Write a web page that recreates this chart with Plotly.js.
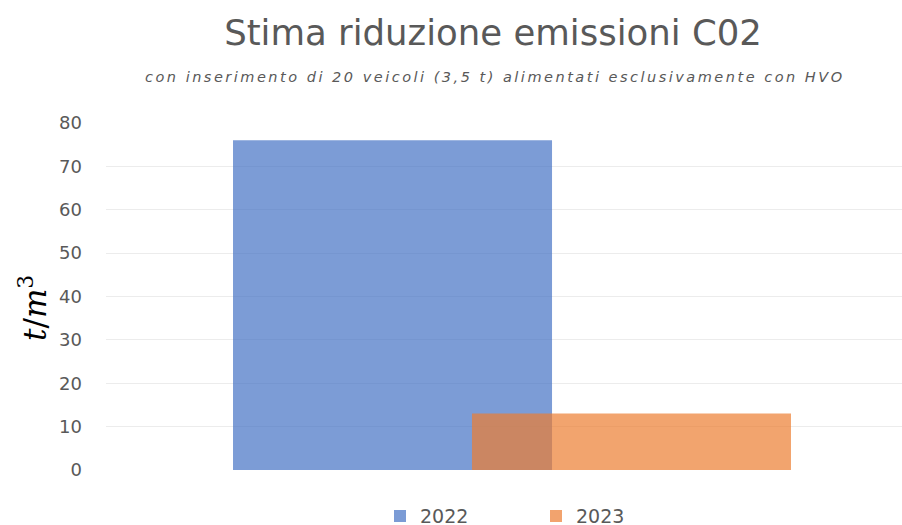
<!DOCTYPE html>
<html>
<head>
<meta charset="utf-8">
<script src="https://cdn.plot.ly/plotly-3.0.1.min.js"></script>
<style>html,body{margin:0;padding:0;background:#fff;}#chart{width:902px;height:525px;}</style>
</head>
<body>
<div id="chart"></div>
<script>
const seriesNames = ["2022", "2023"];
const seriesX = [2022, 2023];
const seriesValues = [76, 13];
const seriesColors = ["#4472C4", "#ED7D31"];
const yTicks = [0, 10, 20, 30, 40, 50, 60, 70, 80];
const titleText = "Stima riduzione emissioni C02";
const subtitleText = "con inserimento di 20 veicoli (3,5 t) alimentati esclusivamente con HVO";
const yTitleText = "<i>t</i>/<i>m</i><sup>3</sup>";

const traces = seriesNames.map((name, i) => ({
  type: "bar",
  name: name,
  x: [seriesX[i]],
  y: [seriesValues[i]],
  width: 1.335,
  marker: {color: seriesColors[i], line: {width: 0}},
  opacity: 0.7,
  hoverinfo: "skip"
}));

const layout = {
  width: 902, height: 525,
  margin: {l: 106, r: 0, t: 123, b: 55, autoexpand: false},
  paper_bgcolor: "#ffffff", plot_bgcolor: "#ffffff",
  barmode: "overlay",
  showlegend: true,
  font: {family: "DejaVu Sans, sans-serif", color: "#595959"},
  title: {text: titleText,
          font: {size: 35.5, color: "#595959", family: "DejaVu Sans, sans-serif"},
          x: 0.5466, xanchor: "center", xref: "container", y: 0.938, yanchor: "middle", yref: "container"},
  annotations: [{
    text: "<span style='letter-spacing:2.5px'><i>" + subtitleText + "</i></span>",
    xref: "paper", yref: "paper", x: 0.4887, y: 1.1326, xanchor: "center", yanchor: "middle",
    showarrow: false, font: {size: 14.5, color: "#595959", family: "DejaVu Sans, sans-serif"}
  }, {
    text: yTitleText, textangle: -90,
    xref: "paper", yref: "paper", x: -0.0917, y: 0.467, xanchor: "center", yanchor: "middle",
    showarrow: false, font: {size: 31, color: "#000", family: "DejaVu Serif, serif"}
  }],
  xaxis: {range: [2020.801, 2024.132], showticklabels: false, showgrid: false, zeroline: false, showline: false, ticks: ""},
  yaxis: {range: [0, 80], tickvals: yTicks, showgrid: true, gridcolor: "#ececec", gridwidth: 1,
          zeroline: false, showline: false, ticks: "", ticklabelstandoff: 23,
          tickfont: {size: 18, color: "#595959", family: "DejaVu Sans, sans-serif"}},
  legend: {orientation: "h", x: 0.5402, xanchor: "center", y: -0.133, yanchor: "middle",
           font: {size: 19, color: "#595959"}, entrywidth: 111, entrywidthmode: "pixels"}
};

Plotly.newPlot("chart", traces, layout, {displayModeBar: false, staticPlot: true});
</script>
</body>
</html>
